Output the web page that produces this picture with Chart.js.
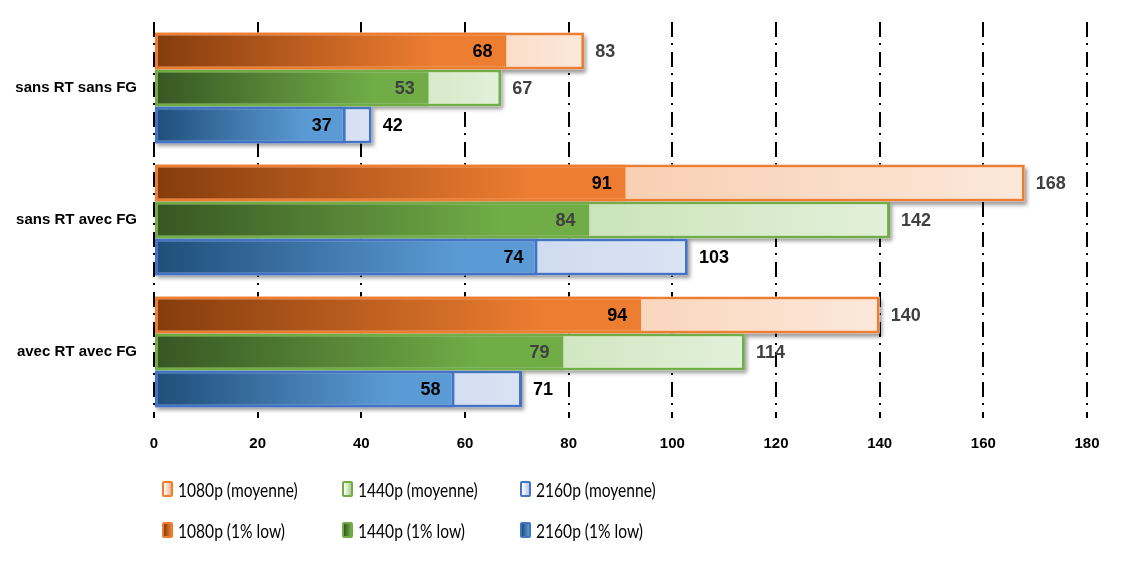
<!DOCTYPE html>
<html>
<head>
<meta charset="utf-8">
<script src="https://cdn.jsdelivr.net/npm/chart.js@4.4.0/dist/chart.umd.min.js"></script>
<style>
  html, body { margin: 0; padding: 0; background: #fff; }
  #wrap { position: relative; width: 1124px; height: 561px; }
  #legend { position: absolute; left: 0; top: 0; width: 1124px; height: 561px; pointer-events: none; }
  .item { position: absolute; display: flex; align-items: center; height: 24px; margin-top: -12px;
          font-family: Lato, "Liberation Sans", sans-serif;
          font-size: 19px; color: #000; white-space: nowrap; }
  .item .txt { display: inline-block; transform: scaleX(0.82); transform-origin: left center; }
  .box { width: 7px; height: 12px; border: 2px solid; border-radius: 2px; margin-right: 5px; }
</style>
</head>
<body>
<div id="wrap">
  <canvas id="chart" width="1124" height="561"></canvas>
  <div id="legend"></div>
</div>
<script>
// categories and values
const categories = ['sans RT sans FG', 'sans RT avec FG', 'avec RT avec FG'];
const avg1080 = [83, 168, 140];
const avg1440 = [67, 142, 114];
const avg2160 = [42, 103, 71];
const low1080 = [68, 91, 94];
const low1440 = [53, 84, 79];
const low2160 = [37, 74, 58];
const xTicks = [0, 20, 40, 60, 80, 100, 120, 140, 160, 180];

// colour themes per resolution
const themes = {
    orange: { base: '#ed7d31', dark: '#843c0c', lightFrom: '#f4b183', lightTo: '#fce8da', inLabel: '#000', outLabel: '#404040' },
    green:  { base: '#70ad47', dark: '#375623', lightFrom: '#a9d18e', lightTo: '#e2f0d9', inLabel: '#404040', outLabel: '#404040' },
    blue:   { base: '#4472c4', dark: '#1f4e79', mid: '#5b9bd5', lightFrom: '#b4c7e7', lightTo: '#dae3f3', inLabel: '#000', outLabel: '#000' }
};

function gradientFor(stops) {
    return function(ctx) {
        const chart = ctx.chart;
        if (!chart.chartArea || ctx.raw == null) return stops[stops.length - 1][1];
        const x = chart.scales.x;
        const x0 = x.getPixelForValue(0);
        const x1 = x.getPixelForValue(ctx.raw);
        const g = chart.ctx.createLinearGradient(x0, 0, Math.max(x1, x0 + 1), 0);
        stops.forEach(s => g.addColorStop(s[0], s[1]));
        return g;
    };
}

// the average and the 1% low of one resolution share a stack slot and overlap
function avgDataset(label, data, t, stack) {
    return {
        label: label,
        data: data,
        stack: stack,
        order: 2,
        kind: 'avg',
        theme: t,
        backgroundColor: gradientFor([[0, t.lightFrom], [1, t.lightTo]]),
        borderColor: t.base,
        borderWidth: 3,
        borderSkipped: false
    };
}

function lowDataset(label, data, t, stack, rightBorder) {
    const mid = t.mid || t.base;
    return {
        label: label,
        data: data,
        stack: stack,
        order: 1,
        kind: 'low',
        theme: t,
        backgroundColor: gradientFor([[0, t.dark], [0.8, mid], [1, mid]]),
        borderColor: t.base,
        borderWidth: { top: 3, bottom: 3, left: 3, right: rightBorder ? 3 : 0 },
        borderSkipped: false
    };
}

const datasets = [
    avgDataset('1080p (moyenne)', avg1080, themes.orange, 'r1080'),
    avgDataset('1440p (moyenne)', avg1440, themes.green, 'r1440'),
    avgDataset('2160p (moyenne)', avg2160, themes.blue, 'r2160'),
    lowDataset('1080p (1% low)', low1080, themes.orange, 'r1080', false),
    lowDataset('1440p (1% low)', low1440, themes.green, 'r1440', false),
    lowDataset('2160p (1% low)', low2160, themes.blue, 'r2160', true)
];

// soft drop shadow behind the average bars, painted before the bars themselves
const shadowPlugin = {
    id: 'barShadow',
    beforeDatasetsDraw(chart) {
        const ctx = chart.ctx;
        ctx.save();
        ctx.shadowColor = 'rgba(0,0,0,0.4)';
        ctx.shadowOffsetX = 2;
        ctx.shadowOffsetY = 3;
        ctx.shadowBlur = 4;
        ctx.fillStyle = '#fff';
        chart.data.datasets.forEach((ds, i) => {
            if (ds.kind !== 'avg') return;
            chart.getDatasetMeta(i).data.forEach(bar => {
                ctx.fillRect(bar.base, bar.y - bar.height / 2, bar.x - bar.base, bar.height);
            });
        });
        ctx.restore();
    }
};

// value labels: 1% low inside the bar end, average outside
const labelPlugin = {
    id: 'valueLabels',
    afterDatasetsDraw(chart) {
        const ctx = chart.ctx;
        ctx.save();
        ctx.font = 'bold 18px "Liberation Sans", Arial, sans-serif';
        ctx.textBaseline = 'middle';
        chart.data.datasets.forEach((ds, i) => {
            const meta = chart.getDatasetMeta(i);
            meta.data.forEach((bar, j) => {
                const txt = String(ds.data[j]);
                if (ds.kind === 'low') {
                    ctx.textAlign = 'right';
                    ctx.fillStyle = ds.theme.inLabel;
                    ctx.fillText(txt, bar.x - 14, bar.y + 1);
                } else {
                    ctx.textAlign = 'left';
                    ctx.fillStyle = ds.theme.outLabel;
                    ctx.fillText(txt, bar.x + 11, bar.y + 1);
                }
            });
        });
        ctx.restore();
    }
};

new Chart(document.getElementById('chart'), {
    type: 'bar',
    data: { labels: categories, datasets: datasets },
    options: {
        indexAxis: 'y',
        responsive: false,
        animation: false,
        categoryPercentage: 0.84,
        barPercentage: 1,
        layout: { padding: { top: 22, right: 37, bottom: 103, left: 0 } },
        plugins: {
            legend: { display: false },
            tooltip: { enabled: false }
        },
        scales: {
            x: {
                min: 0,
                max: 180,
                stacked: false,
                afterBuildTicks: s => { s.ticks = xTicks.map(v => ({ value: v })); },
                afterFit: s => { s.height = 40; },
                grid: { color: '#000', lineWidth: 2, drawTicks: false },
                border: { display: false, dash: [15, 6, 2, 7] },
                ticks: {
                    padding: 17,
                    color: '#000',
                    font: { family: '"Liberation Sans", Arial, sans-serif', size: 15, weight: 'bold' }
                }
            },
            y: {
                stacked: true,
                afterFit: s => { s.width = 154; },
                grid: { display: false },
                border: { display: false },
                ticks: {
                    padding: 9,
                    color: '#000',
                    font: { family: '"Liberation Sans", Arial, sans-serif', size: 15, weight: 'bold' }
                }
            }
        }
    },
    plugins: [shadowPlugin, labelPlugin]
});

// legend in three columns, two rows (averages first)
const legendCols = [162, 342, 520];
const legendRows = [489, 530];
const legend = document.getElementById('legend');
datasets.forEach((ds, i) => {
    const t = ds.theme;
    const item = document.createElement('div');
    item.className = 'item';
    item.style.left = legendCols[i % 3] + 'px';
    item.style.top = legendRows[Math.floor(i / 3)] + 'px';
    const box = document.createElement('span');
    box.className = 'box';
    box.style.borderColor = t.base;
    box.style.background = ds.kind === 'avg'
        ? 'linear-gradient(to right, #ffffff, ' + t.lightFrom + ')'
        : 'linear-gradient(to right, ' + t.dark + ', ' + (t.mid || t.base) + ')';
    const txt = document.createElement('span');
    txt.className = 'txt';
    txt.textContent = ds.label;
    item.appendChild(box);
    item.appendChild(txt);
    legend.appendChild(item);
});
</script>
</body>
</html>
